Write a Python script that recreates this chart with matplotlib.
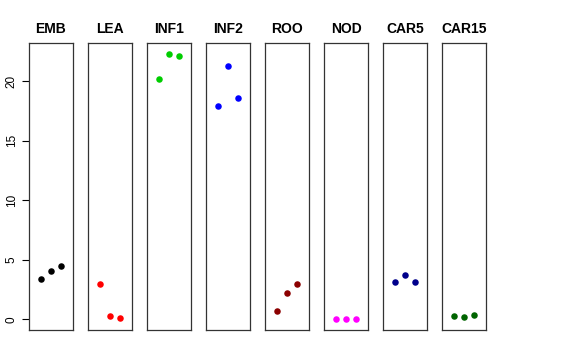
import matplotlib
matplotlib.use("Agg")
import matplotlib.pyplot as plt

# tissues and their three replicate values
tissues = ["EMB", "LEA", "INF1", "INF2", "ROO", "NOD", "CAR5", "CAR15"]
colors = ["black", "red", "#00CD00", "blue", "#8B0000", "magenta", "#00008B", "#006400"]
reps = [1, 2, 3]
values = [
    [3.43, 4.04, 4.52],
    [2.95, 0.28, 0.14],
    [20.17, 22.28, 22.09],
    [17.95, 21.26, 18.55],
    [0.70, 2.20, 3.01],
    [0.02, 0.02, 0.02],
    [3.10, 3.74, 3.15],
    [0.25, 0.17, 0.33],
]

plt.rcParams['font.family'] = ['Liberation Sans', 'DejaVu Sans']

fig = plt.figure(figsize=(5.76, 3.6), dpi=100)
W, H = 576.0, 360.0
top, bottom = 43, 330

for i, (name, col, vals) in enumerate(zip(tissues, colors, values)):
    x0 = 29 + 59 * i
    ax = fig.add_axes([x0 / W, 1 - bottom / H, 44 / W, (bottom - top) / H])
    ax.scatter(reps, vals, s=22, color=col, linewidths=0, zorder=3)
    ax.set_xlim(-0.16, 4.16)
    ax.set_ylim(-0.89, 23.2)
    ax.set_xticks([])
    ax.set_title(name, fontsize=10, fontweight="bold", pad=7)
    for sp in ax.spines.values():
        sp.set_linewidth(0.9)
        sp.set_color("#333333")
    if i == 0:
        ax.set_yticks([0, 5, 10, 15, 20])
        ax.tick_params(axis="y", length=5, width=0.8, labelsize=8.5, pad=3)
        for lab in ax.get_yticklabels():
            lab.set_rotation(90)
            lab.set_va("center")
    else:
        ax.set_yticks([])

fig.savefig("out.png", dpi=100)
